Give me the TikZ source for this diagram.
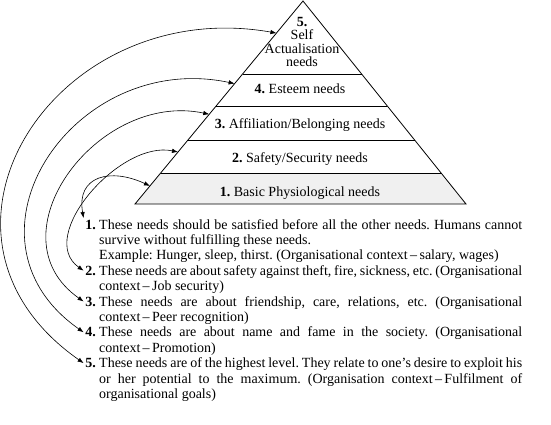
\documentclass[tikz,border=0pt]{standalone}
\usepackage{fontspec}
\setmainfont{Liberation Serif}
\usetikzlibrary{arrows.meta,calc}

\newcommand\needsfont{\fontsize{14}{15.4}\selectfont\frenchspacing}
\tolerance=9999
\hyphenpenalty=10000

\tikzset{
  band/.style={line width=0.8pt},
  level/.style={anchor=base,inner sep=0pt,font=\needsfont},
  num/.style={anchor=base east,inner sep=1.5pt,font=\needsfont\bfseries},
  item/.style={anchor=base west,inner sep=0pt,text width=423pt,align=justify,font=\needsfont},
  link/.style={{Latex[length=6pt,width=4.5pt]}-{Latex[length=6pt,width=4.5pt]},line width=0.6pt},
}

\begin{document}
\begin{tikzpicture}[x=1pt,y=1pt]
  \useasboundingbox (0,0) rectangle (551,-425);
  % pyramid
  \coordinate (apex) at (303,-1);
  \coordinate (bl) at (135,-204);
  \coordinate (br) at (466,-204);
  \fill[gray!12] ($(apex)!0.8473!(bl)$) -- ($(apex)!0.8473!(br)$) -- (br) -- (bl) -- cycle;
  \draw[band] (apex) -- (br) -- (bl) -- cycle;
  \foreach \f in {0.3596,0.5172,0.6847,0.8473}
    \draw[band] ($(apex)!\f!(bl)$) -- ($(apex)!\f!(br)$);
  \node[level,anchor=south,align=center,font=\fontsize{14}{13.5}\selectfont] (l5) at (302,-67)
    {\textbf{5.}\\Self\\Actualisation\\needs};
  \node[level] (l4) at (300,-93.5) {\textbf{4.} Esteem needs};
  \node[level] (l3) at (300,-128.5) {\textbf{3.} Affiliation/Belonging needs};
  \node[level] (l2) at (300,-162) {\textbf{2.} Safety/Security needs};
  \node[level] (l1) at (300,-196.5) {\textbf{1.} Basic Physiological needs};
  % ends of the links on the left side
  \coordinate (e1) at ($(apex)!0.911!(bl)$);
  \coordinate (e2) at ($(apex)!0.744!(bl)$);
  \coordinate (e3) at ($(apex)!0.558!(bl)$);
  \coordinate (e4) at ($(apex)!0.407!(bl)$);
  \coordinate (e5) at ($(apex)!0.158!(bl)$);
  % notes
  \node[num] (n1) at (97.5,-229) {1.};
  \node[item] (t1) at (99,-229) {These needs should be satisfied before all the other needs. Humans cannot\linebreak
    survive without fulfilling these needs.\newline
    Example: Hunger, sleep, thirst. (Organisational context\,--\,salary, wages)};
  \node[num] (n2) at (97.5,-275.2) {2.};
  \node[item] (t2) at (99,-275.2) {These needs are about safety against theft, fire, sickness, etc. (Organisational\linebreak
    context\,--\,Job security)};
  \node[num] (n3) at (97.5,-306) {3.};
  \node[item] (t3) at (99,-306) {These needs are about friendship, care, relations, etc. (Organisational\linebreak
    context\,--\,Peer recognition)};
  \node[num] (n4) at (97.5,-336.8) {4.};
  \node[item] (t4) at (99,-336.8) {These needs are about name and fame in the society. (Organisational\linebreak
    context\,--\,Promotion)};
  \node[num] (n5) at (97.5,-367.6) {5.};
  \node[item] (t5) at (99,-367.6) {These needs are of the highest level. They relate to one's desire to exploit his\linebreak
    or her potential to the maximum. (Organisation context\,--\,Fulfilment of\linebreak
    organisational goals)};
  % links
  \draw[link] (n1.north west) to[out=100,in=155,looseness=1.5] (e1);
  \draw[link] (n2.west) to[out=145,in=168,looseness=1] (e2);
  \draw[link] (n3.west) to[out=145,in=168,looseness=1.3] (e3);
  \draw[link] (n4.west) to[out=145,in=168,looseness=1.45] (e4);
  \draw[link] (n5.west) to[out=145,in=170,looseness=1.5] (e5);
\end{tikzpicture}
\end{document}
